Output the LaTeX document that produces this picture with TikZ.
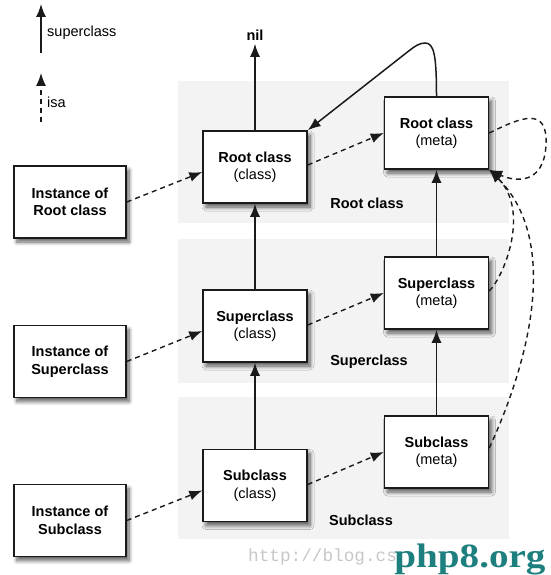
\documentclass[tikz,border=0pt]{standalone}
\usepackage{fontspec}
\setmainfont{Liberation Sans}
\newfontfamily\wmserif{Liberation Serif}
\newfontfamily\wmmono{Liberation Mono}
\usetikzlibrary{arrows.meta,shadows.blur}
\definecolor{band}{HTML}{F3F3F3}
\definecolor{wmteal}{HTML}{1E7F7F}
\definecolor{edge}{HTML}{1A1A1A}
\begin{document}
\begin{tikzpicture}[x=1pt,y=-1pt,
  font=\fontsize{14.5}{17.5}\selectfont,
  box/.style={draw=edge, line width=1.5pt, fill=white, minimum width=104pt,
    minimum height=72pt, align=center, inner sep=0pt,
    blur shadow={shadow xshift=3pt, shadow yshift=-4pt, shadow blur radius=4pt, shadow blur steps=8, shadow opacity=65}},
  instbox/.style={box, minimum width=112pt},
  supline/.style={draw=edge, line width=1.5pt, -{Latex[length=13pt,width=10pt]}},
  isaline/.style={draw=edge, line width=1.4pt, dash pattern=on 5pt off 4pt, -{Latex[length=13pt,width=10pt]}},
  bandlabel/.style={font=\fontsize{14.5}{17.5}\selectfont\bfseries}
]
\useasboundingbox (0,0) rectangle (550,575);
% bands
\fill[band] (178,81) rectangle (509,223);
\fill[band] (178,239) rectangle (509,383);
\fill[band] (178,397) rectangle (509,539);
% legend
\coordinate (lsupA) at (41,53);
\coordinate (lsupB) at (41,4);
\draw[supline] (lsupA) -- (lsupB);
\node[anchor=west, inner sep=0pt] (lsuptext) at (47,33) {superclass};
\coordinate (lisaA) at (41,122);
\coordinate (lisaB) at (41,73);
\draw[isaline] (lisaA) -- (lisaB);
\node[anchor=west, inner sep=0pt] (lisatext) at (47,102) {isa};
% band labels
\node[bandlabel] (lblroot) at (367,203) {Root class};
\node[bandlabel] (lblsup) at (369,362) {Superclass};
\node[bandlabel] (lblsub) at (361,520) {Subclass};
% nodes
\node (nil) at (255,35) {\textbf{nil}};
\node[box] (rootc) at (255,167) {\textbf{Root class}\\(class)};
\node[box] (rootm) at (436.5,133) {\textbf{Root class}\\(meta)};
\node[box] (supc) at (255,326) {\textbf{Superclass}\\(class)};
\node[box] (supm) at (436.5,293) {\textbf{Superclass}\\(meta)};
\node[box] (subc) at (255,485.5) {\textbf{Subclass}\\(class)};
\node[box] (subm) at (436.5,452) {\textbf{Subclass}\\(meta)};
\node[instbox] (inroot) at (70,202) {\textbf{Instance of}\\\textbf{Root class}};
\node[instbox] (insup) at (70,361.5) {\textbf{Instance of}\\\textbf{Superclass}};
\node[instbox] (insub) at (70,520.5) {\textbf{Instance of}\\\textbf{Subclass}};
% superclass links
\draw[supline] (rootc.north) -- (nil.south);
\draw[supline] (supc.north) -- (rootc.south);
\draw[supline] (subc.north) -- (supc.south);
\draw[supline] (supm.north) -- (rootm.south);
\draw[supline] (subm.north) -- (supm.south);
\draw[supline] (rootm.north) .. controls (436.5,55) and (434,43) .. (425,43)
  .. controls (419,43) and (414,47) .. (410,50) -- (rootc.north east);
% isa links
\draw[isaline] (inroot.east) -- ([yshift=-5pt]rootc.west);
\draw[isaline] (insup.east) -- ([yshift=-5pt]supc.west);
\draw[isaline] (insub.east) -- ([yshift=-5pt]subc.west);
\draw[isaline] ([yshift=2pt]rootc.east) -- (rootm.west);
\draw[isaline] ([yshift=1pt]supc.east) -- (supm.west);
\draw[isaline] ([yshift=1pt]subc.east) -- (subm.west);
\draw[isaline] (rootm.east) .. controls (520,118) and (548,105) .. (546,145)
  .. controls (544,185) and (515,182) .. (rootm.south east);
\draw[isaline] ([yshift=2pt]supm.east) .. controls (505,275) and (530,210) .. (rootm.south east);
\draw[isaline] ([yshift=4pt]subm.east) .. controls (530,360) and (560,240) .. (rootm.south east);
% watermark
\node[anchor=base west, inner sep=0pt, text=black!22, font=\wmmono\fontsize{17.7}{20}\selectfont] (wm1) at (248,561) {http://blog.cs};
\node[anchor=base, inner sep=0pt, text=wmteal, font=\wmserif\bfseries\fontsize{34}{36}\selectfont, xscale=1.15] (wm2) at (470,567) {php8.org};
\end{tikzpicture}
\end{document}
